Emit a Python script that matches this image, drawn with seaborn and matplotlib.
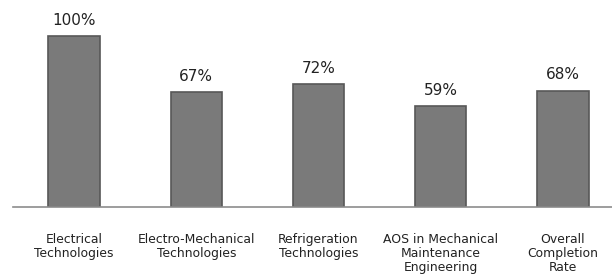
import matplotlib
matplotlib.use("Agg")
import matplotlib.pyplot as plt
import seaborn as sns
import pandas as pd

# ---------------------------------
# Data
# ---------------------------------
categories = [
    "Electrical\nTechnologies",
    "Electro-Mechanical\nTechnologies",
    "Refrigeration\nTechnologies",
    "AOS in Mechanical\nMaintenance\nEngineering",
    "Overall\nCompletion\nRate",
]
rates = [100, 67, 72, 59, 68]

df = pd.DataFrame({"Program": categories, "Rate": rates})

sns.set_style("white")
plt.rcParams["font.family"] = ["DejaVu Sans"]

fig = plt.figure(figsize=(6.12, 2.74), dpi=100)
ax = fig.add_axes([13 / 612, 67 / 274, 611 / 612, 207 / 274])

sns.barplot(data=df, x="Program", y="Rate", color="#7a7a7a", width=0.42,
            edgecolor="#585858", linewidth=1.2, saturation=1, ax=ax)

labels = [f"{v}%" for v in rates]
ax.bar_label(ax.containers[0], labels=labels, padding=6, fontsize=11, color="#222222")

ax.set_ylim(0, 100 * 207 / 171)
ax.set_xlim(-0.5, 4.5)
ax.set_xlabel("")
ax.set_ylabel("")
ax.set_yticks([])
for side in ["top", "left", "right"]:
    ax.spines[side].set_visible(False)
ax.spines["bottom"].set_color("#8c8c8c")
ax.spines["bottom"].set_linewidth(1.2)
ax.tick_params(axis="x", length=0, pad=19, labelsize=8.9, labelcolor="#222222")
for t in ax.get_xticklabels():
    t.set_linespacing(1.1)

fig.savefig("out.png", dpi=100)
